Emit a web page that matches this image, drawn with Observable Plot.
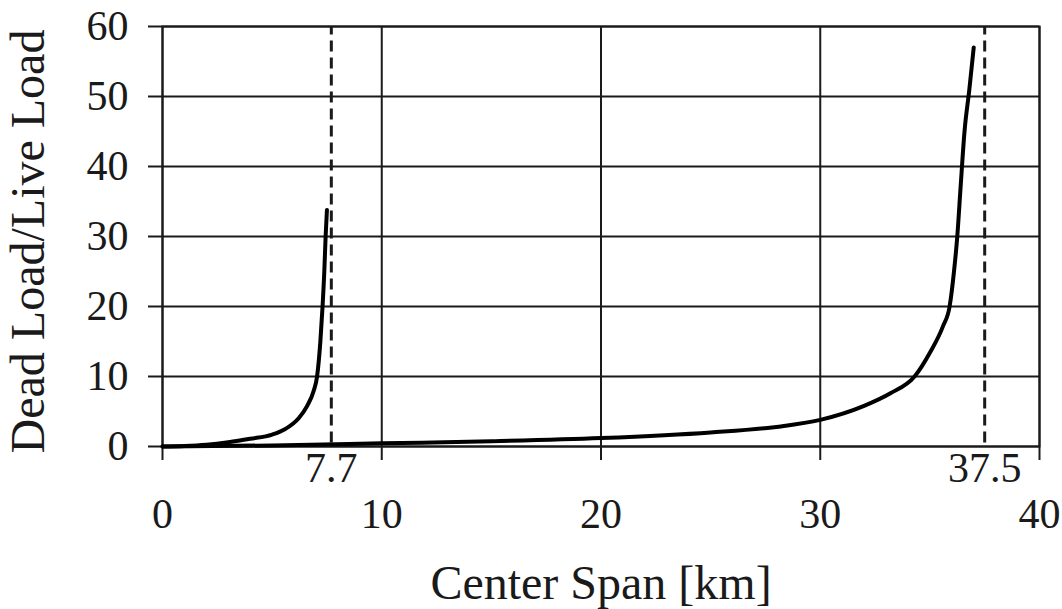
<!DOCTYPE html>
<html>
<head>
<meta charset="utf-8">
<script src="https://cdn.jsdelivr.net/npm/d3@7"></script>
<script src="https://cdn.jsdelivr.net/npm/@observablehq/plot@0.6"></script>
<style>
  html, body { margin: 0; padding: 0; background: #fff; }
</style>
</head>
<body>
<div id="chart"></div>
<script>
// Short-limit curve (asymptote at 7.7 km)
const spanShort  = [0, 1, 2, 3, 4, 5, 5.6, 6.2, 6.6, 6.9, 7.05, 7.2, 7.3, 7.38, 7.44, 7.5];
const ratioShort = [0, 0.07, 0.25, 0.6, 1.1, 1.7, 2.5, 4, 5.8, 8, 10, 15, 20, 25, 30, 33.8];

// Long-limit curve (asymptote at 37.5 km)
const spanLong  = [0, 5, 10, 15, 20, 25, 28, 30, 32, 33.2, 34.3, 35, 35.6, 35.9, 36.1, 36.25, 36.4, 36.58, 36.8, 37.0];
const ratioLong = [0, 0.15, 0.45, 0.75, 1.2, 2.0, 2.8, 3.8, 5.8, 7.6, 10, 13.4, 17.2, 20, 25, 30, 37, 45, 51, 57];

const limits = [7.7, 37.5];
const limitLabels = ["7.7", "37.5"];
const xTicks = [0, 10, 20, 30, 40];
const yTicks = [0, 10, 20, 30, 40, 50, 60];
const xTitle = "Center Span [km]";
const yTitle = "Dead Load/Live Load";

const shortData = spanShort.map((x, i) => ({x, y: ratioShort[i]}));
const longData = spanLong.map((x, i) => ({x, y: ratioLong[i]}));
const limitData = limits.map((x, i) => ({x, label: limitLabels[i]}));

const ink = "#1a1a1a";
const chart = Plot.plot({
  width: 1062,
  height: 609,
  marginLeft: 162,
  marginRight: 23,
  marginTop: 26,
  marginBottom: 163,
  style: {fontFamily: "'Liberation Serif', 'Times New Roman', serif", fontSize: "41px", color: ink, background: "white"},
  x: {domain: [0, 40]},
  y: {domain: [0, 60]},
  marks: [
    Plot.gridX(xTicks, {stroke: ink, strokeOpacity: 1, strokeWidth: 2}),
    Plot.gridY(yTicks, {stroke: ink, strokeOpacity: 1, strokeWidth: 2}),
    Plot.frame({stroke: ink, strokeWidth: 2}),
    Plot.axisX(xTicks, {tickSize: 14, tickPadding: 38, fontSize: 42, label: null, strokeWidth: 2, tickFormat: d => String(d)}),
    Plot.axisY(yTicks, {tickSize: 14, tickPadding: 20, fontSize: 42, label: null, strokeWidth: 2, tickFormat: d => String(d)}),
    Plot.ruleX(limitData, {x: "x", y1: 0.5, y2: 60, stroke: ink, strokeWidth: 3, strokeDasharray: "11,6"}),
    Plot.line(shortData, {x: "x", y: "y", curve: "monotone-x", stroke: "#000", strokeWidth: 4}),
    Plot.line(longData, {x: "x", y: "y", curve: "monotone-x", stroke: "#000", strokeWidth: 4}),
    Plot.text(limitData, {x: "x", y: () => 0, text: "label", lineAnchor: "top", dy: 6, fontSize: 42, fill: ink}),
    Plot.text([yTitle], {frameAnchor: "left", textAnchor: "middle", lineAnchor: "middle", rotate: -90, dx: -134, dy: 5, fontSize: 48, fill: ink}),
    Plot.text([xTitle], {frameAnchor: "bottom", textAnchor: "middle", lineAnchor: "middle", dy: 137, fontSize: 48, fill: ink})
  ]
});
document.getElementById("chart").appendChild(chart);
</script>
</body>
</html>
